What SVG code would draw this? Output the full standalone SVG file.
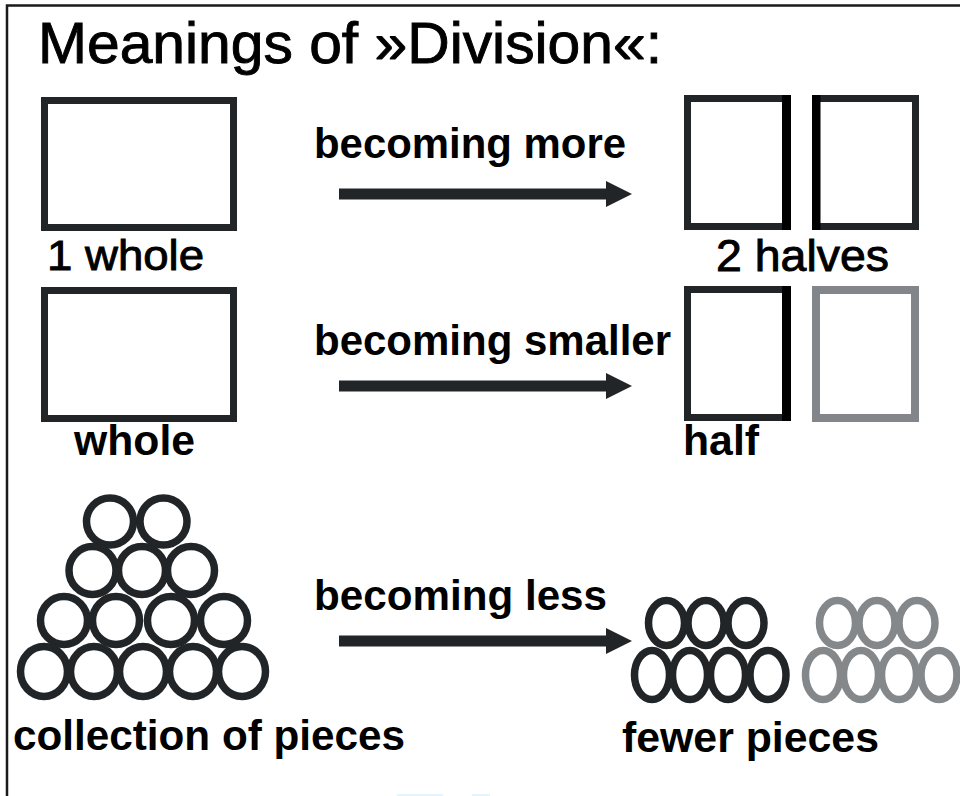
<svg xmlns="http://www.w3.org/2000/svg" width="960" height="796" viewBox="0 0 960 796">
<defs>
<style>
.t{font-family:"Liberation Sans",Arial,sans-serif;fill:#000}
.b{font-weight:bold}
.r{stroke:#000;stroke-width:0.9}
.box{fill:none;stroke:#222528;stroke-width:7}
.edge{fill:#000}
.gbox{fill:none;stroke:#828589;stroke-width:8}
.c{fill:none;stroke:#222528;stroke-width:7.5}
.shaft{stroke:#222528;stroke-width:11;fill:none}
</style>
<marker id="ah" markerUnits="userSpaceOnUse" markerWidth="26" markerHeight="26" viewBox="0 0 25 25" refX="0" refY="12.5" orient="auto">
<path d="M0,0 L25,12.5 L0,25 z" fill="#222528"/>
</marker>
<g id="pile">
<ellipse class="c" cx="110" cy="521.5" rx="23.5" ry="23.5"/>
<ellipse class="c" cx="163.5" cy="521.5" rx="23.5" ry="23.5"/>
<ellipse class="c" cx="92.5" cy="570.5" rx="23.5" ry="24"/>
<ellipse class="c" cx="142" cy="570.5" rx="23.5" ry="24"/>
<ellipse class="c" cx="191" cy="570.5" rx="23.5" ry="24"/>
<ellipse class="c" cx="64" cy="620.5" rx="23.5" ry="24"/>
<ellipse class="c" cx="116" cy="620.5" rx="23.5" ry="24"/>
<ellipse class="c" cx="171" cy="620.5" rx="23.5" ry="24"/>
<ellipse class="c" cx="224" cy="620.5" rx="23.5" ry="24"/>
<ellipse class="c" cx="44" cy="671.5" rx="23.5" ry="25"/>
<ellipse class="c" cx="94" cy="671.5" rx="23.5" ry="25"/>
<ellipse class="c" cx="143" cy="671.5" rx="23.5" ry="25"/>
<ellipse class="c" cx="193" cy="671.5" rx="23.5" ry="25"/>
<ellipse class="c" cx="242" cy="671.5" rx="23.5" ry="25"/>
</g>
<g id="few">
<ellipse cx="666.5" cy="623" rx="18" ry="22.5"/>
<ellipse cx="706" cy="623" rx="18" ry="22.5"/>
<ellipse cx="746" cy="623" rx="18" ry="22.5"/>
<ellipse cx="652" cy="675" rx="17.5" ry="24.5"/>
<ellipse cx="690" cy="675" rx="17.5" ry="24.5"/>
<ellipse cx="728" cy="675" rx="17.5" ry="24.5"/>
<ellipse cx="768" cy="675" rx="18" ry="24.5"/>
</g>
</defs>
<rect width="960" height="796" fill="#fff"/>
<g id="frame" fill="none" stroke="#1a1a1a" stroke-width="2.5">
<path d="M7,796 V5.5 H960"/>
</g>
<text class="t r" x="38" y="63" font-size="57" textLength="624" lengthAdjust="spacingAndGlyphs">Meanings of »Division«:</text>

<g id="whole1">
<rect class="box" x="44.5" y="100.5" width="189" height="127"/>
<text class="t r" x="47" y="270" font-size="42" textLength="157" lengthAdjust="spacingAndGlyphs">1 whole</text>
</g>
<g id="halves">
<rect class="box" x="687.5" y="98.5" width="100" height="128"/>
<rect class="edge" x="782" y="95" width="9" height="135"/>
<rect class="box" x="815.5" y="98.5" width="100" height="128"/>
<rect class="edge" x="812" y="95" width="8.5" height="135"/>
<text class="t r" x="716" y="271" font-size="44" textLength="173" lengthAdjust="spacingAndGlyphs">2 halves</text>
</g>
<g id="whole2">
<rect class="box" x="44.5" y="290.5" width="189" height="128"/>
<text class="t b" x="74" y="455" font-size="42" textLength="121" lengthAdjust="spacingAndGlyphs">whole</text>
</g>
<g id="half">
<rect class="box" x="687.5" y="289.5" width="100" height="128"/>
<rect class="edge" x="782" y="286" width="9" height="135"/>
<rect class="gbox" x="816" y="290" width="99" height="128"/>
<text class="t b" x="683" y="455" font-size="42" textLength="76" lengthAdjust="spacingAndGlyphs">half</text>
</g>
<g id="collection">
<use href="#pile"/>
<text class="t b" x="13" y="750" font-size="42" textLength="392" lengthAdjust="spacingAndGlyphs">collection of pieces</text>
</g>
<g id="fewer">
<use href="#few" fill="none" stroke="#222528" stroke-width="7.5"/>
<use href="#few" x="171" fill="none" stroke="#85888b" stroke-width="7.5"/>
<text class="t b" x="622" y="752" font-size="42" textLength="257" lengthAdjust="spacingAndGlyphs">fewer pieces</text>
</g>

<g id="connectors">
<path class="shaft" d="M339,194 H606" marker-end="url(#ah)"/>
<path class="shaft" d="M339,386 H606" marker-end="url(#ah)"/>
<path class="shaft" d="M339,641 H606" marker-end="url(#ah)"/>
<text class="t b" x="314" y="158" font-size="42" textLength="312" lengthAdjust="spacingAndGlyphs">becoming more</text>
<text class="t b" x="314" y="355" font-size="42" textLength="357" lengthAdjust="spacingAndGlyphs">becoming smaller</text>
<text class="t b" x="314" y="610" font-size="42" textLength="293" lengthAdjust="spacingAndGlyphs">becoming less</text>
</g>
<g id="bottom-marks" fill="#e3f5fb">
<rect x="397" y="794" width="46" height="2"/>
<rect x="472" y="794" width="18" height="2"/>
</g>
</svg>
